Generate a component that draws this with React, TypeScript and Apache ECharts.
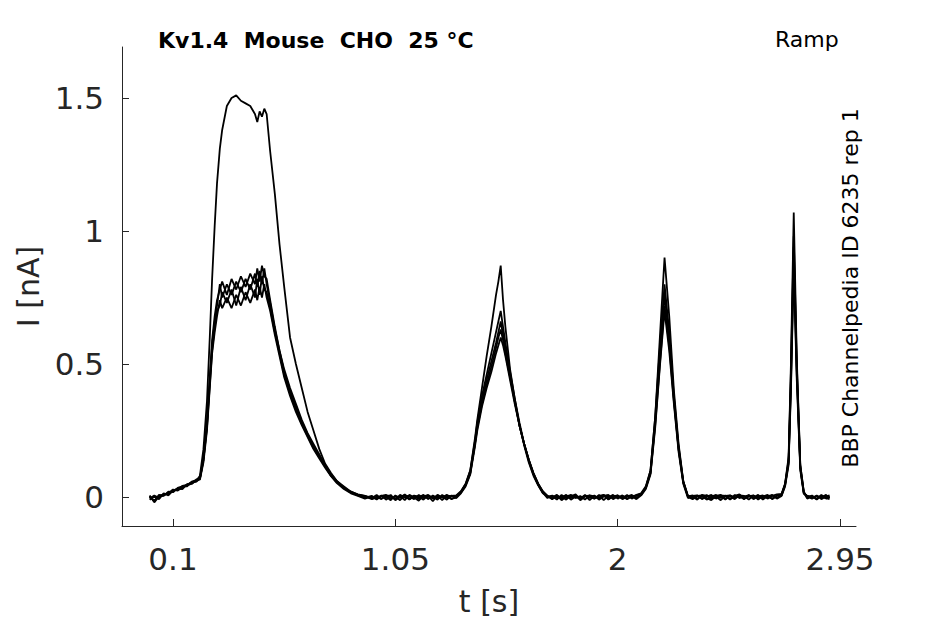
import React, { useRef, useEffect } from 'react'
import * as echarts from 'echarts'

// sample times [s], split by stretch of the recording
const tBase0 = [0, 0.02, 0.04, 0.06, 0.08, 0.1, 0.12, 0.14, 0.16, 0.18, 0.2]
const tRamp1 = [
  0.215, 0.23, 0.245, 0.257, 0.267, 0.278, 0.288, 0.3, 0.31, 0.33, 0.35, 0.37, 0.39,
  0.41, 0.43, 0.45, 0.46, 0.47, 0.48, 0.49, 0.5, 0.515, 0.535, 0.555, 0.575, 0.6,
  0.625, 0.65, 0.675, 0.7, 0.725, 0.75, 0.775, 0.8, 0.83, 0.86, 0.89, 0.92, 0.95,
]
const tBase1 = [
  0.97, 0.99, 1.01, 1.03, 1.05, 1.07, 1.09, 1.11, 1.13, 1.15, 1.17, 1.19, 1.21, 1.23,
  1.25, 1.27, 1.29,
]
const tRamp2 = [
  1.31, 1.33, 1.35, 1.37, 1.39, 1.4, 1.42, 1.44, 1.46, 1.48, 1.49, 1.5, 1.51, 1.52,
  1.54, 1.56, 1.58, 1.6, 1.62, 1.64, 1.66, 1.68, 1.7,
]
const tBase2 = [
  1.72, 1.74, 1.76, 1.78, 1.8, 1.82, 1.84, 1.86, 1.88, 1.9, 1.92, 1.94, 1.96, 1.98,
  2.0, 2.02, 2.04, 2.06, 2.08,
]
const tRamp3 = [2.1, 2.12, 2.14, 2.16, 2.18, 2.2, 2.22, 2.24, 2.26, 2.28, 2.3]
const tBase3 = [
  2.32, 2.34, 2.36, 2.38, 2.4, 2.42, 2.44, 2.46, 2.48, 2.5, 2.52, 2.54, 2.56, 2.58,
  2.6, 2.62, 2.64, 2.66, 2.68,
]
const tRamp4 = [2.7, 2.715, 2.73, 2.74, 2.752, 2.765, 2.78, 2.795, 2.81]
const tBase4 = [2.83, 2.85, 2.87, 2.89, 2.905]

const times = [
  ...tBase0, ...tRamp1, ...tBase1, ...tRamp2, ...tBase2,
  ...tRamp3, ...tBase3, ...tRamp4, ...tBase4,
]

// current [nA] of each sweep, same order as times
const sweep1 = [
  0.002, -0.014, 0.004, 0.008, 0.016, 0.022, 0.03, 0.038, 0.044, 0.05, 0.062,
  0.08, 0.18, 0.36, 0.6, 0.82, 1.02, 1.18, 1.31, 1.38, 1.47, 1.5, 1.51, 1.49,
  1.48, 1.47, 1.44, 1.41, 1.45, 1.43, 1.46, 1.44, 1.3, 1.14, 0.95, 0.79, 0.6,
  0.5, 0.41, 0.32, 0.25, 0.18, 0.125, 0.09, 0.06, 0.035, 0.02, 0.008, 0.004, -0.006,
  -0.004, 0.006, -0.01, 0.002, -0.008, 0.004, -0.012, 0.008, -0.002, -0.014, 0.006,
  -0.006, 0.002, -0.01, 0.008, -0.004, 0.004,
  0.006, 0.022, 0.05, 0.1, 0.22, 0.29, 0.41, 0.53, 0.64, 0.76, 0.81, 0.87, 0.74,
  0.64, 0.48, 0.37, 0.27, 0.2, 0.14, 0.09, 0.05, 0.022, 0.004,
  -0.008, 0.004, -0.002, 0.008, -0.01, 0.002, -0.006, 0.006, -0.012, 0.004, -0.004,
  0.008, -0.008, 0.002, 0.006, -0.006, 0.004, -0.002, 0.008,
  0.014, 0.04, 0.1, 0.3, 0.6, 0.9, 0.68, 0.4, 0.2, 0.06, 0.004,
  -0.004, 0.006, -0.008, 0.002, 0.008, -0.006, 0.004, -0.01, 0.006, -0.002, 0.004,
  -0.008, 0.008, -0.004, 0.002, 0.006, -0.006, 0.004, 0.01,
  0.012, 0.05, 0.15, 0.5, 1.07, 0.52, 0.12, 0.02, -0.004,
  0.006, -0.008, 0.004, -0.004, 0.002,
]
const sweep2 = [
  -0.006, 0.006, -0.004, 0.012, 0.01, 0.026, 0.026, 0.034, 0.046, 0.054, 0.058,
  0.072, 0.15, 0.28, 0.45, 0.59, 0.68, 0.74,
  0.78, 0.81, 0.76, 0.82, 0.78, 0.83, 0.79, 0.84, 0.8, 0.86, 0.81, 0.87, 0.83, 0.82,
  0.74, 0.64, 0.55, 0.48, 0.41, 0.35, 0.29, 0.24, 0.2, 0.16, 0.12, 0.085, 0.06,
  0.04, 0.02, 0.01, 0.004, -0.004,
  0.008, -0.006, 0.002, -0.012, 0.006, -0.004, 0.01, -0.008, 0.004, 0.002, -0.01,
  0.006, -0.006, 0.008, -0.002, 0.004, -0.008,
  0.002, 0.02, 0.048, 0.1, 0.21, 0.28, 0.38, 0.46, 0.54, 0.62, 0.66, 0.7, 0.64,
  0.58, 0.47, 0.37, 0.28, 0.2, 0.14, 0.09, 0.05, 0.02, 0.002,
  0.004, -0.01, 0.008, -0.004, 0.002, 0.01, -0.008, 0.004, 0.002, -0.006, 0.008,
  -0.012, 0.004, -0.002, 0.006, -0.008, 0.002, 0.008, -0.004,
  0.01, 0.036, 0.1, 0.3, 0.56, 0.8, 0.62, 0.38, 0.19, 0.06, 0.002,
  0.006, -0.006, 0.004, -0.01, 0.002, 0.008, -0.004, 0.006, -0.008, 0.004, 0.01,
  -0.006, 0.002, -0.002, 0.008, -0.01, 0.004, 0.006, -0.004,
  0.008, 0.05, 0.14, 0.47, 0.98, 0.5, 0.12, 0.018, 0.002,
  -0.006, 0.004, -0.002, 0.008, -0.004,
]
const sweep3 = [
  0.006, -0.02, 0.002, 0.004, 0.02, 0.018, 0.034, 0.04, 0.04, 0.058, 0.064,
  0.068, 0.14, 0.27, 0.44, 0.57, 0.66, 0.72,
  0.8, 0.75, 0.8, 0.76, 0.81, 0.77, 0.82, 0.78, 0.84, 0.79, 0.85, 0.8, 0.86, 0.8,
  0.73, 0.63, 0.55, 0.47, 0.4, 0.34, 0.28, 0.235, 0.19, 0.155, 0.12, 0.08, 0.058,
  0.036, 0.018, 0.006, -0.002, 0.004,
  -0.01, 0.004, 0.008, -0.006, 0.002, -0.012, 0.006, 0.002, -0.008, 0.008, -0.004,
  0.004, -0.016, 0.006, -0.002, 0.008, -0.006,
  -0.002, 0.018, 0.046, 0.09, 0.2, 0.27, 0.36, 0.44, 0.51, 0.58, 0.62, 0.66, 0.61,
  0.56, 0.46, 0.36, 0.27, 0.2, 0.14, 0.085, 0.048, 0.018, 0.004,
  -0.006, 0.006, -0.012, 0.002, 0.008, -0.004, 0.004, -0.01, 0.006, 0.002, -0.006,
  0.004, 0.008, -0.008, 0.002, -0.004, 0.008, -0.006, 0.004,
  0.008, 0.034, 0.09, 0.28, 0.53, 0.76, 0.6, 0.37, 0.18, 0.055, 0.0,
  -0.008, 0.004, 0.006, -0.004, -0.012, 0.004, 0.008, -0.006, 0.002, -0.008, 0.006,
  0.004, -0.01, 0.006, -0.004, 0.002, 0.008, -0.008, 0.004,
  0.01, 0.046, 0.13, 0.44, 0.94, 0.48, 0.11, 0.016, -0.006,
  0.004, -0.01, 0.006, -0.006, 0.002,
]
const sweep4 = [
  -0.01, 0.002, -0.008, 0.014, 0.006, 0.024, 0.032, 0.03, 0.048, 0.05, 0.066,
  0.07, 0.14, 0.26, 0.42, 0.55, 0.64, 0.7,
  0.72, 0.77, 0.73, 0.78, 0.72, 0.79, 0.74, 0.8, 0.75, 0.82, 0.76, 0.83, 0.78, 0.77,
  0.71, 0.62, 0.54, 0.46, 0.39, 0.33, 0.275, 0.23, 0.185, 0.15, 0.115, 0.08, 0.056,
  0.034, 0.016, 0.008, 0.002, -0.008,
  0.002, -0.008, 0.006, 0.004, -0.01, 0.008, -0.002, -0.006, 0.006, -0.008, 0.002,
  0.008, -0.004, 0.004, -0.012, 0.006, 0.002,
  0.004, 0.016, 0.044, 0.09, 0.2, 0.26, 0.35, 0.42, 0.49, 0.56, 0.6, 0.63, 0.59,
  0.54, 0.45, 0.36, 0.27, 0.2, 0.135, 0.085, 0.046, 0.016, -0.004,
  0.006, -0.004, 0.002, -0.01, 0.006, 0.004, -0.006, 0.008, -0.004, 0.006, -0.01,
  0.002, -0.002, 0.008, -0.006, 0.004, -0.008, 0.002, 0.006,
  0.012, 0.036, 0.09, 0.27, 0.5, 0.72, 0.57, 0.36, 0.18, 0.055, 0.004,
  0.002, -0.01, 0.008, 0.004, -0.006, -0.002, 0.006, 0.004, -0.01, 0.008, -0.004,
  0.002, 0.006, -0.008, 0.004, -0.004, 0.002, -0.006, 0.006,
  0.006, 0.044, 0.13, 0.42, 0.9, 0.46, 0.11, 0.014, 0.004,
  -0.004, 0.006, -0.008, 0.002, 0.006,
]
const sweep5 = [
  0.002, -0.016, 0.008, 0.006, 0.014, 0.028, 0.024, 0.042, 0.046, 0.056, 0.06,
  0.066, 0.13, 0.25, 0.41, 0.54, 0.62, 0.68,
  0.74, 0.71, 0.75, 0.71, 0.76, 0.72, 0.77, 0.73, 0.78, 0.74, 0.79, 0.75, 0.8, 0.75,
  0.7, 0.61, 0.53, 0.45, 0.38, 0.32, 0.27, 0.225, 0.18, 0.145, 0.11, 0.078, 0.052,
  0.03, 0.014, 0.004, -0.006, 0.002,
  -0.006, 0.004, -0.004, 0.008, -0.012, 0.002, 0.006, -0.01, 0.004, -0.002, 0.008,
  -0.008, 0.006, -0.004, 0.002, -0.01, 0.006,
  -0.004, 0.014, 0.04, 0.085, 0.19, 0.25, 0.34, 0.41, 0.47, 0.54, 0.57, 0.6, 0.57,
  0.53, 0.44, 0.35, 0.27, 0.195, 0.13, 0.08, 0.044, 0.014, 0.002,
  -0.002, 0.008, -0.008, 0.004, -0.004, 0.006, -0.012, 0.002, 0.006, -0.006, 0.004,
  0.008, -0.01, 0.004, -0.002, 0.006, -0.006, 0.004, -0.008,
  0.006, 0.03, 0.085, 0.26, 0.49, 0.7, 0.55, 0.35, 0.17, 0.05, -0.004,
  0.004, 0.006, -0.006, 0.008, -0.004, 0.002, -0.012, 0.004, 0.006, -0.004, 0.008,
  -0.006, 0.002, 0.006, -0.01, 0.004, -0.002, 0.008, -0.006,
  0.004, 0.04, 0.12, 0.4, 0.86, 0.44, 0.1, 0.012, 0.004,
  0.002, -0.006, 0.008, -0.004, -0.008,
]
const sweeps = [sweep1, sweep2, sweep3, sweep4, sweep5]

const xTicks = [0.1, 1.05, 2, 2.95]
const yTicks = [0, 0.5, 1, 1.5]

const FONT = 'DejaVu Sans'
const AXIS_GREY = '#262626'

const App: React.FC = () => {
  const chartRef = useRef<HTMLDivElement>(null)

  useEffect(() => {
    if (!chartRef.current) return
    const chart = echarts.init(chartRef.current, undefined, { renderer: 'svg' })

    const option = {
      animation: false,
      backgroundColor: '#ffffff',
      grid: { left: 122, right: 89, top: 47, bottom: 98 },
      xAxis: {
        type: 'value',
        min: -0.118,
        max: 3.018,
        name: 't [s]',
        nameLocation: 'middle',
        nameGap: 60,
        nameTextStyle: { fontFamily: FONT, fontSize: 30, color: AXIS_GREY },
        axisLine: { onZero: false, lineStyle: { color: AXIS_GREY, width: 1 } },
        axisTick: { show: true, inside: true, length: 7, customValues: xTicks, lineStyle: { color: AXIS_GREY } },
        axisLabel: {
          customValues: xTicks,
          margin: 17,
          fontFamily: FONT,
          fontSize: 31,
          color: AXIS_GREY,
          formatter: (v: number) => String(v),
        },
        splitLine: { show: false },
      },
      yAxis: {
        type: 'value',
        min: -0.109,
        max: 1.692,
        name: 'I [nA]',
        nameLocation: 'middle',
        nameGap: 76,
        nameTextStyle: { fontFamily: FONT, fontSize: 30, color: AXIS_GREY },
        axisLine: { show: true, onZero: false, lineStyle: { color: AXIS_GREY, width: 1 } },
        axisTick: { show: true, inside: true, length: 7, customValues: yTicks, lineStyle: { color: AXIS_GREY } },
        axisLabel: {
          customValues: yTicks,
          margin: 18,
          fontFamily: FONT,
          fontSize: 31,
          color: AXIS_GREY,
          formatter: (v: number) => String(v),
        },
        splitLine: { show: false },
      },
      graphic: [
        {
          type: 'text',
          x: 158,
          y: 40,
          style: {
            text: 'Kv1.4\u00a0\u00a0Mouse\u00a0\u00a0CHO\u00a0\u00a025\u00a0°C',
            font: `bold 22px "${FONT}"`,
            fill: '#000',
            verticalAlign: 'middle',
          },
        },
        {
          type: 'text',
          x: 775,
          y: 39,
          style: { text: 'Ramp', font: `22px "${FONT}"`, fill: '#000', verticalAlign: 'middle' },
        },
        {
          type: 'text',
          x: 850,
          y: 288,
          rotation: Math.PI / 2,
          style: {
            text: 'BBP Channelpedia ID 6235 rep 1',
            font: `22px "${FONT}"`,
            fill: '#000',
            align: 'center',
            verticalAlign: 'middle',
          },
        },
      ],
      series: sweeps.map((sweep, k) => ({
        name: `sweep ${k + 1}`,
        type: 'line',
        showSymbol: false,
        clip: true,
        lineStyle: { color: '#000', width: 1.8 },
        data: times.map((t, i) => [t, sweep[i]]),
      })),
    }

    chart.setOption(option)
    return () => chart.dispose()
  }, [])

  return (
    <div
      ref={chartRef}
      style={{ position: 'fixed', left: 0, top: 0, width: 945, height: 624, background: '#fff' }}
    />
  )
}

export default App
